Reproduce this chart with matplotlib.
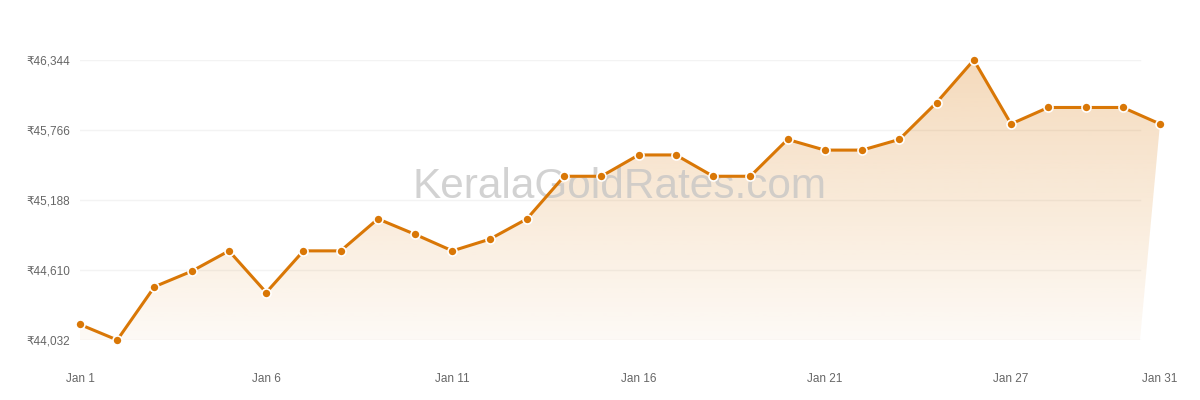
import matplotlib
matplotlib.use("Agg")
import matplotlib.pyplot as plt
import numpy as np
from matplotlib.patches import Polygon

plt.rcParams['font.family'] = ['Liberation Sans', 'DejaVu Sans']

dates = ["Jan 1", "Jan 2", "Jan 3", "Jan 4", "Jan 5", "Jan 6", "Jan 7", "Jan 8",
         "Jan 9", "Jan 10", "Jan 11", "Jan 12", "Jan 13", "Jan 14", "Jan 15",
         "Jan 16", "Jan 17", "Jan 18", "Jan 19", "Jan 20", "Jan 21", "Jan 22",
         "Jan 23", "Jan 24", "Jan 25", "Jan 27", "Jan 28", "Jan 29", "Jan 30",
         "Jan 31"]
prices = [44160, 44032, 44472, 44600, 44768, 44424, 44768, 44768, 45032, 44904,
          44768, 44864, 45032, 45384, 45384, 45560, 45560, 45384, 45384, 45688,
          45600, 45600, 45688, 45992, 46344, 45816, 45952, 45952, 45952, 45816]
y_ticks = [44032, 44610, 45188, 45766, 46344]
x_tick_idx = [0, 5, 10, 15, 20, 25, 29]

line_color = "#d97706"

fig = plt.figure(figsize=(12, 4), dpi=100)
ax = fig.add_axes([80/1200, 60/400, 1080/1200, 280/400])
x = np.arange(len(prices))
ymin, ymax = y_ticks[0], y_ticks[-1]
ax.set_xlim(0, len(prices) - 1)
ax.set_ylim(ymin, ymax)

# gridlines (ending slightly before the last point, as in the reference)
grid_end = 1060 / 1080
for t in y_ticks:
    ax.axhline(t, xmin=0, xmax=grid_end, color="#f3f3f3", lw=1, zorder=0)

# gradient area fill
right_bottom = (len(prices) - 1) * grid_end
verts = [(0, ymin)] + list(zip(x, prices)) + [(right_bottom, ymin)]
poly = Polygon(verts, closed=True, facecolor="none", edgecolor="none")
ax.add_patch(poly)
grad = np.zeros((256, 1, 4))
rgb = matplotlib.colors.to_rgb(line_color)
grad[:, 0, 0:3] = rgb
grad[:, 0, 3] = np.linspace(0.27, 0.04, 256)
im = ax.imshow(grad, aspect="auto", extent=[0, len(prices) - 1, ymin, ymax],
               origin="upper", zorder=1, interpolation="bilinear")
im.set_clip_path(poly)
ax.set_xlim(0, len(prices) - 1)
ax.set_ylim(ymin, ymax)

ax.plot(x, prices, color=line_color, lw=2.2, zorder=3, clip_on=False,
        marker="o", markersize=6.5, markerfacecolor=line_color,
        markeredgecolor="white", markeredgewidth=1.2)

# watermark
ax.text(0.5, 0.545, "KeralaGoldRates.com", transform=ax.transAxes,
        ha="center", va="center", fontsize=30.5, color="#c4c4c4", alpha=0.75,
        zorder=2)

ax.set_yticks(y_ticks)
ax.set_yticklabels([f"₹{v:,}" for v in y_ticks])
ax.set_xticks(x_tick_idx)
ax.set_xticklabels([dates[i] for i in x_tick_idx])
ax.tick_params(axis="both", length=0, labelsize=8.5, labelcolor="#666666")
ax.tick_params(axis="y", pad=7)
ax.tick_params(axis="x", pad=24)
for s in ax.spines.values():
    s.set_visible(False)

fig.savefig("out.png", dpi=100, facecolor="white")
